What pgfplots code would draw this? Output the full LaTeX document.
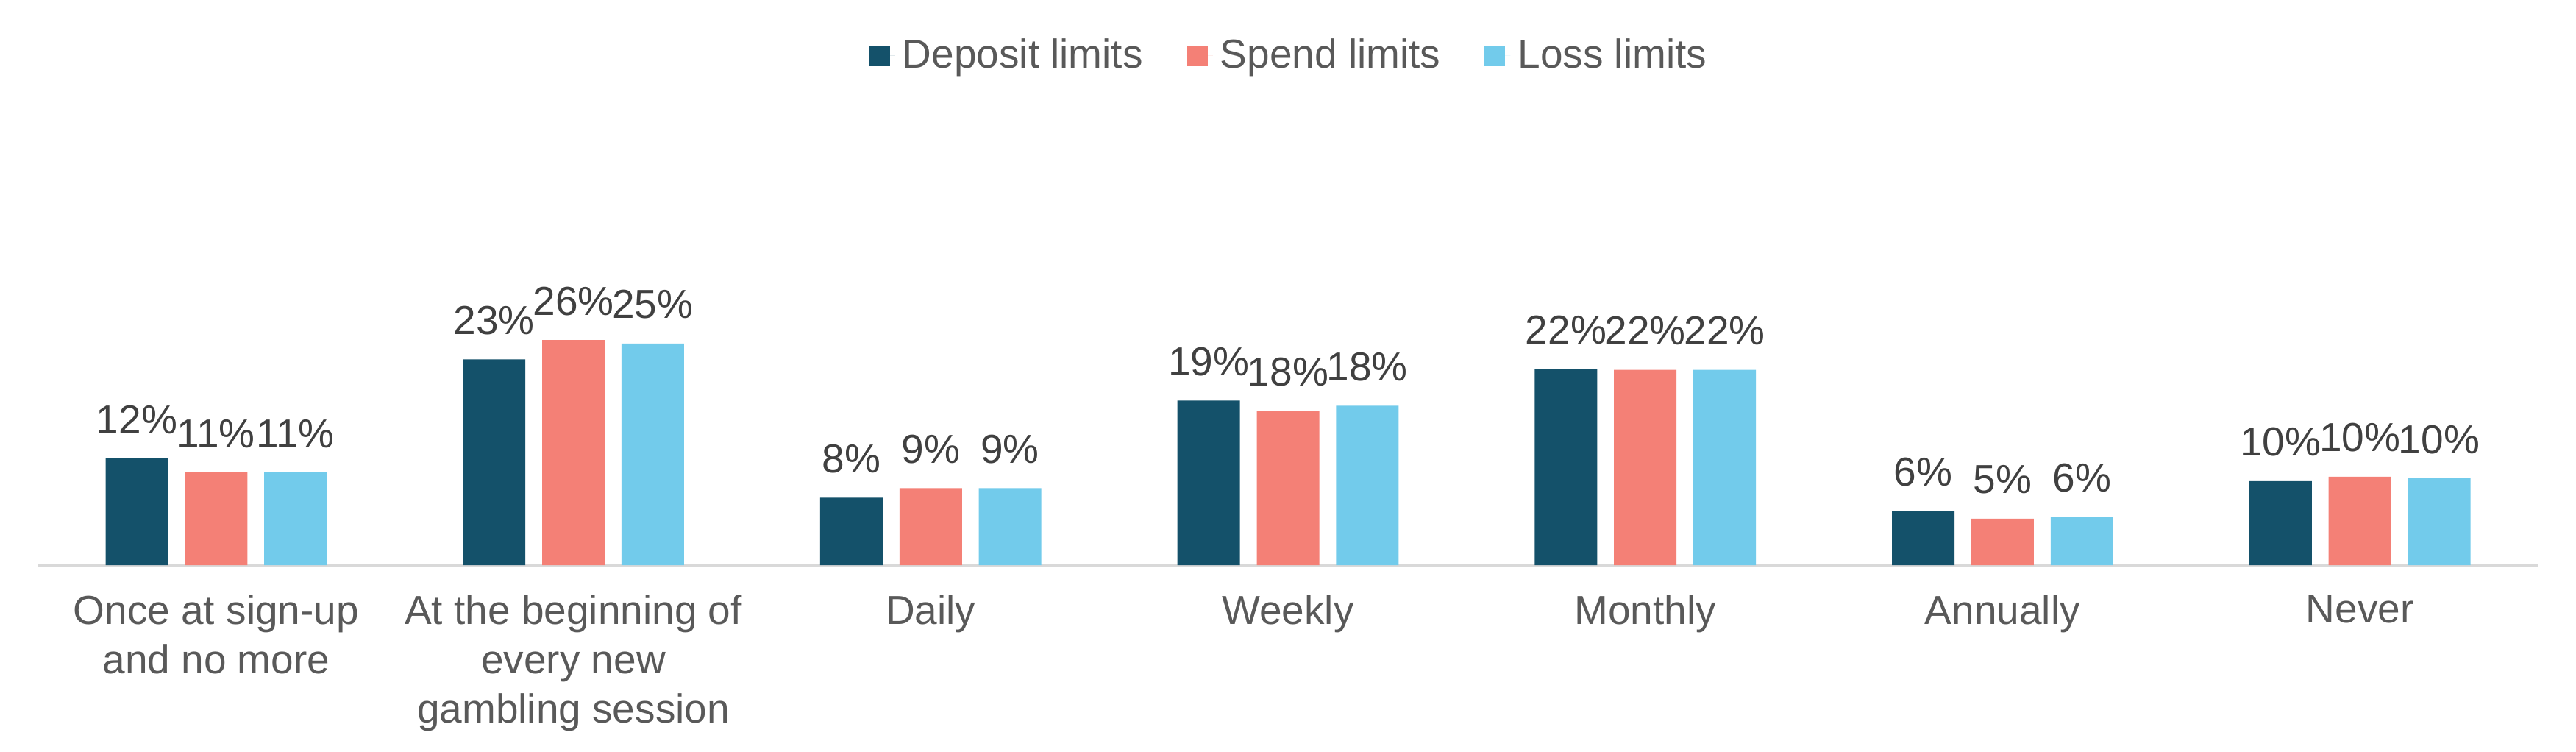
\documentclass[border=0pt]{standalone}
\usepackage{fontspec}
\setmainfont{Liberation Sans}
\usepackage{pgfplots}
\pgfplotsset{compat=1.18}
\definecolor{cdep}{RGB}{20,81,106}
\definecolor{cspe}{RGB}{244,128,118}
\definecolor{clos}{RGB}{114,203,235}
\definecolor{txt}{RGB}{89,89,89}
\definecolor{lbl}{RGB}{64,64,64}
\definecolor{axl}{RGB}{217,217,217}
\pgfplotsset{sq/.style={legend image code/.code={\fill[##1] (0pt,-2.8pt) rectangle (5.6pt,2.8pt); \path (0pt,0pt) -- (7pt,0pt);}}}
\begin{document}
\begin{tikzpicture}
\begin{axis}[
  scale only axis,
  width=680pt, height=71.4pt,
  xmin=-0.5, xmax=6.5, ymin=0, ymax=30,
  axis x line*=bottom, axis y line=none,
  axis line style={axl, line width=0.6pt},
  ybar, bar width=0.175,
  xtick={0,...,6},
  major tick length=0pt,
  xticklabels={{Once at sign-up\\and no more},{At the beginning of\\every new\\gambling session},Daily,Weekly,Monthly,Annually,Never},
  xticklabel style={align=center, font=\fontsize{11}{13.4}\selectfont, text=txt, anchor=north, inner sep=0pt, yshift=-8pt},
  clip=false,
  point meta=explicit symbolic,
  nodes near coords={\pgfplotspointmeta},
  nodes near coords style={font=\fontsize{11}{13}\selectfont, text=lbl, anchor=south, inner sep=0pt, yshift=6.5pt},
  legend style={at={(0.5,1)}, anchor=center, yshift=67pt, xshift=1pt, draw=none, legend columns=3, font=\fontsize{11}{13}\selectfont, text=txt,
    /tikz/every even column/.append style={column sep=10pt}},
]
\addplot[fill=cdep, draw=none, bar shift=-0.222, sq] coordinates {
(0,12.2) [12\%] (1,23.5) [23\%] (2,7.7) [8\%] (3,18.8) [19\%] (4,22.4) [22\%] (5,6.2) [6\%] (6,9.6) [10\%]};
\addlegendentry{Deposit limits}
\addplot[fill=cspe, draw=none, bar shift=0, sq] coordinates {
(0,10.6) [11\%] (1,25.7) [26\%] (2,8.8) [9\%] (3,17.6) [18\%] (4,22.3) [22\%] (5,5.3) [5\%] (6,10.1) [10\%]};
\addlegendentry{Spend limits}
\addplot[fill=clos, draw=none, bar shift=0.222, sq] coordinates {
(0,10.6) [11\%] (1,25.3) [25\%] (2,8.8) [9\%] (3,18.2) [18\%] (4,22.3) [22\%] (5,5.5) [6\%] (6,9.9) [10\%]};
\addlegendentry{Loss limits}
\end{axis}
\pgfresetboundingbox
\path[use as bounding box] ([xshift=-10.2pt,yshift=-50.6pt]current axis.south west) rectangle ([xshift=10.2pt,yshift=82.2pt]current axis.north east);
\end{tikzpicture}
\end{document}
